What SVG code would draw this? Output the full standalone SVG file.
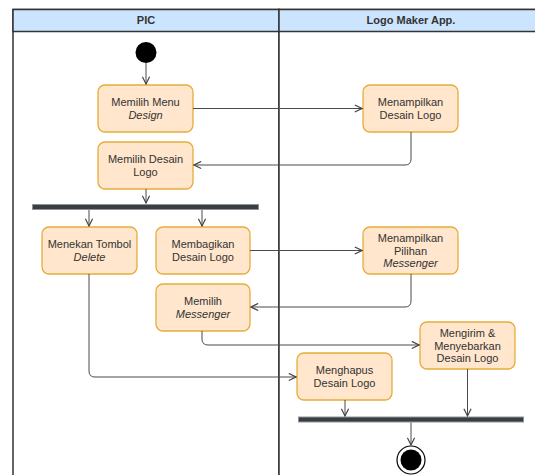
<svg xmlns="http://www.w3.org/2000/svg" width="535" height="475" viewBox="0 0 535 475">
  <defs>
    <marker id="arrow" viewBox="0 0 10 10" refX="9" refY="5" markerWidth="9" markerHeight="9" markerUnits="userSpaceOnUse" orient="auto">
      <path d="M1,1 L9,5 L1,9" fill="none" stroke="#444" stroke-width="1.3"/>
    </marker>
  </defs>
  <style>
    .lane { fill: #ffffff; stroke: #333333; stroke-width: 1.5; }
    .head { fill: #cce5ff; stroke: #333333; stroke-width: 1.5; }
    .headtxt { font-family: "Liberation Sans", Arial, sans-serif; font-size: 11px; font-weight: bold; fill: #333333; text-anchor: middle; }
    .act rect { fill: #ffe6cc; stroke: #e5ad3a; stroke-width: 1.3; }
    .act text { font-family: "Liberation Sans", Arial, sans-serif; font-size: 11px; fill: #333333; text-anchor: middle; }
    .it { font-style: italic; }
    .bar { fill: #3a3d42; stroke: #8f949a; stroke-width: 1; }
    .edge { fill: none; stroke: #4a4a4a; stroke-width: 1; marker-end: url(#arrow); }
  </style>

  <!-- swimlanes -->
  <g id="lanes">
    <rect class="lane" x="13" y="9.5" width="266" height="480"/>
    <rect class="lane" x="279" y="9.5" width="270" height="480"/>
    <rect class="head" x="13" y="9.5" width="266" height="22"/>
    <rect class="head" x="279" y="9.5" width="270" height="22"/>
    <text class="headtxt" x="146" y="24">PIC</text>
    <text class="headtxt" x="411" y="24">Logo Maker App.</text>
  </g>

  <!-- start / end -->
  <g id="start"><circle cx="146" cy="52.5" r="10.5" fill="#000"/></g>
  <g id="end">
    <circle cx="411" cy="460" r="14" fill="#fff" stroke="#000" stroke-width="1.2"/>
    <circle cx="411" cy="460" r="10.5" fill="#000"/>
  </g>

  <!-- fork / join bars -->
  <g id="fork"><rect class="bar" x="32.5" y="204.5" width="226" height="5"/></g>
  <g id="join"><rect class="bar" x="298.5" y="417" width="225" height="5"/></g>

  <!-- activities -->
  <g id="memilih-menu" class="act">
    <rect x="98" y="85" width="95" height="47" rx="7"/>
    <text x="145.5" y="106">Memilih Menu</text>
    <text x="145.5" y="119" class="it">Design</text>
  </g>
  <g id="memilih-desain" class="act">
    <rect x="98" y="142" width="95" height="47" rx="7"/>
    <text x="145.5" y="163">Memilih Desain</text>
    <text x="145.5" y="176">Logo</text>
  </g>
  <g id="menampilkan-desain" class="act">
    <rect x="363" y="85" width="95" height="47" rx="7"/>
    <text x="410.5" y="106">Menampilkan</text>
    <text x="410.5" y="119">Desain Logo</text>
  </g>
  <g id="menekan-delete" class="act">
    <rect x="42" y="227" width="95" height="47" rx="7"/>
    <text x="89.5" y="248">Menekan Tombol</text>
    <text x="89.5" y="261" class="it">Delete</text>
  </g>
  <g id="membagikan" class="act">
    <rect x="156" y="227" width="94" height="47" rx="7"/>
    <text x="203" y="248">Membagikan</text>
    <text x="203" y="261">Desain Logo</text>
  </g>
  <g id="menampilkan-pilihan" class="act">
    <rect x="363" y="227" width="95" height="47" rx="7"/>
    <text x="410.5" y="241.5">Menampilkan</text>
    <text x="410.5" y="254.5">Pilihan</text>
    <text x="410.5" y="267" class="it">Messenger</text>
  </g>
  <g id="memilih-messenger" class="act">
    <rect x="156" y="284" width="94" height="47" rx="7"/>
    <text x="203" y="305">Memilih</text>
    <text x="203" y="318" class="it">Messenger</text>
  </g>
  <g id="mengirim" class="act">
    <rect x="420" y="322" width="95" height="47" rx="7"/>
    <text x="467.5" y="336.5">Mengirim &amp;</text>
    <text x="467.5" y="349.5">Menyebarkan</text>
    <text x="467.5" y="362">Desain Logo</text>
  </g>
  <g id="menghapus" class="act">
    <rect x="297" y="353" width="95" height="47" rx="7"/>
    <text x="344.5" y="374">Menghapus</text>
    <text x="344.5" y="387">Desain Logo</text>
  </g>

  <!-- connectors -->
  <g id="connectors">
    <path class="edge" d="M146,63 V84"/>
    <path class="edge" d="M193,108.5 H362"/>
    <path class="edge" d="M411,132 V159 Q411,165 405,165 H194"/>
    <path class="edge" d="M146,189 V203"/>
    <path class="edge" d="M89,210 V226"/>
    <path class="edge" d="M202,210 V226"/>
    <path class="edge" d="M250,250.5 H362"/>
    <path class="edge" d="M411,274 V301 Q411,307 405,307 H251"/>
    <path class="edge" d="M202,331 V339 Q202,345 208,345 H419"/>
    <path class="edge" d="M89,274 V371 Q89,377 95,377 H296"/>
    <path class="edge" d="M345,400 V416"/>
    <path class="edge" d="M467.5,369 V416"/>
    <path class="edge" d="M411,422.5 V445"/>
  </g>
</svg>
